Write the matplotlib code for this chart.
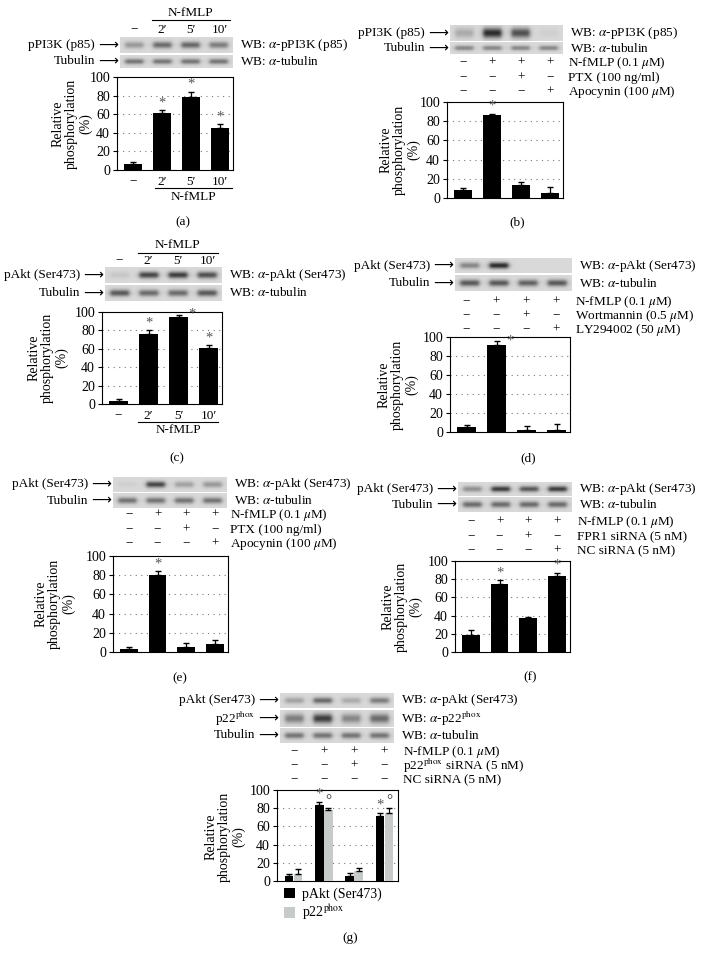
import numpy as np
import matplotlib
matplotlib.use("Agg")
import matplotlib.pyplot as plt
from matplotlib.transforms import blended_transform_factory

plt.rcParams['font.family'] = ['Liberation Serif', 'DejaVu Sans']
plt.rcParams['mathtext.fontset'] = 'stix'
plt.rcParams['font.size'] = 9.5

W, H = 703, 964

# ---- data ----
time_lanes = ["−", "2′", "5′", "10′"]
a_vals = [6, 61, 79, 45]
a_err = [3, 3, 5, 4]
b_vals = [8, 86, 14, 5]
b_err = [2, 2, 3, 6]
c_vals = [3, 76, 95, 61]
c_err = [2, 4, 1.5, 3]
d_vals = [5, 92, 2, 2]
d_err = [2, 4, 4, 6]
e_vals = [3, 80, 5, 8]
e_err = [2, 4, 4, 5]
f_vals = [19, 75, 37, 84]
f_err = [5, 4, 2, 3]
g_akt = [5, 84, 5, 71]
g_akt_err = [3, 3, 4, 4]
g_p22 = [8, 78, 11, 75]
g_p22_err = [5, 2, 3, 5]

a_stars = [1, 2, 3]
b_stars = [1]
e_stars = [1]
f_stars = [1, 3]
g_stars = [1, 3]

signs_std = [["−", "+", "+", "+"], ["−", "−", "+", "−"], ["−", "−", "−", "+"]]
signs_g = [["−", "+", "+", "+"], ["−", "−", "+", "−"], ["−", "−", "−", "−"]]
treat_b = [r"N-fMLP (0.1 $\mu$M)", "PTX (100 ng/ml)", r"Apocynin (100 $\mu$M)"]
treat_d = [r"N-fMLP (0.1 $\mu$M)", r"Wortmannin (0.5 $\mu$M)", r"LY294002 (50 $\mu$M)"]
treat_f = [r"N-fMLP (0.1 $\mu$M)", "FPR1 siRNA (5 nM)", "NC siRNA (5 nM)"]
treat_g = [r"N-fMLP (0.1 $\mu$M)", r"p22$^{\mathrm{phox}}$ siRNA (5 nM)", "NC siRNA (5 nM)"]

# band intensities for the blot strips (0 = none, 1 = black)
a_p85 = [0.35, 0.6, 0.62, 0.5]
a_tub = [0.55, 0.55, 0.55, 0.55]
b_p85 = [0.25, 0.95, 0.75, 0.05]
b_tub = [0.45, 0.45, 0.45, 0.45]
c_akt = [0.1, 0.8, 0.85, 0.75]
c_tub = [0.7, 0.6, 0.6, 0.7]
d_akt = [0.45, 0.95, 0.0, 0.0]
d_tub = [0.7, 0.7, 0.65, 0.7]
e_akt = [0.05, 0.8, 0.3, 0.35]
e_tub = [0.55, 0.55, 0.55, 0.55]
f_akt = [0.4, 0.85, 0.7, 0.85]
f_tub = [0.6, 0.6, 0.6, 0.6]
g_akt_band = [0.3, 0.6, 0.25, 0.5]
g_p22_band = [0.5, 0.85, 0.45, 0.6]
g_tub = [0.55, 0.55, 0.55, 0.55]

fig = plt.figure(figsize=(W / 100, H / 100), dpi=100)


def box(x0, y0, x1, y1):
    return [x0 / W, 1 - y1 / H, (x1 - x0) / W, (y1 - y0) / H]


def ftext(x, y, s, **kw):
    kw.setdefault('ha', 'center')
    kw.setdefault('va', 'center')
    return fig.text(x / W, 1 - y / H, s, **kw)


def blot(x0, y0, x1, y1, bands, thick=0.3, label=None, wb=None):
    ax = fig.add_axes(box(x0, y0, x1, y1))
    xs = np.linspace(-0.5, 3.5, 300)
    ys = np.linspace(-0.5, 0.5, 40)
    X, Y = np.meshgrid(xs, ys)
    img = np.full(X.shape, 0.85)
    for i, v in enumerate(bands):
        prof = 1 / (1 + ((X - i) / 0.33) ** 8) * np.exp(-(Y / thick) ** 2 * 2)
        img -= 0.72 * v * prof
    ax.imshow(img, cmap='gray', vmin=0, vmax=1, aspect='auto',
              extent=(-0.5, 3.5, 0.5, -0.5), interpolation='bilinear')
    ax.set_axis_off()
    yc = (y0 + y1) / 2
    if label:
        # long arrow pointing at the strip, label to its left
        ftext(x0 - 2, yc, "⟶", ha='right', family='DejaVu Sans', fontsize=10)
        ftext(x0 - 25, yc, label, ha='right')
    if wb:
        ftext(x1 + 7, yc, wb, ha='left')
    return ax


def style_axes(ax):
    ax.set_ylim(0, 100)
    ax.set_yticks([0, 20, 40, 60, 80, 100])
    ax.set_xticks([])
    ax.set_xlim(-0.55, 3.45)
    ax.tick_params(axis='y', length=3, width=0.8, pad=2, labelsize=10)
    for s in ax.spines.values():
        s.set_linewidth(0.8)
    for g in [20, 40, 60, 80]:
        ax.axhline(g, color='#777777', linestyle=(0, (1, 4)), linewidth=0.8, zorder=1)


def ylab(x, y):
    ftext(x, y, "Relative\nphosphorylation\n(%)", rotation=90, linespacing=1.05,
          multialignment='center', fontsize=10)


def star(ax, x, y):
    ax.text(x, y, "*", ha='center', va='bottom', color='#555555', fontsize=10.5)


def bars(x0, y0, x1, y1, vals, err, stars, ylab_x):
    ax = fig.add_axes(box(x0, y0, x1, y1))
    pos = np.arange(len(vals))
    ax.bar(pos, vals, width=0.62, color='black', zorder=3)
    ax.errorbar(pos, vals, yerr=[[0] * len(vals), err], fmt='none',
                ecolor='black', elinewidth=0.9, capsize=2.5, zorder=4)
    for i in stars:
        star(ax, pos[i], vals[i] + err[i] + 1)
    style_axes(ax)
    ylab(ylab_x, (y0 + y1) / 2)
    return ax


def sign_rows(ax, ys, signs, labels, label_x):
    tr = blended_transform_factory(ax.transData, fig.transFigure)
    for y, row, lab in zip(ys, signs, labels):
        for i, s in enumerate(row):
            ax.text(i, 1 - y / H, s, transform=tr, ha='center', va='center')
        ftext(label_x, y, lab, ha='left')


def time_axis(ax, y_lab, y_line, y_name, line_x0, line_x1):
    tr = blended_transform_factory(ax.transData, fig.transFigure)
    for i, s in enumerate(time_lanes):
        ax.text(i, 1 - y_lab / H, s, transform=tr, ha='center', va='center')
    fig.add_artist(plt.Line2D([line_x0 / W, line_x1 / W], [1 - y_line / H] * 2,
                              color='black', linewidth=0.8))
    ftext((line_x0 + line_x1) / 2, y_name, "N-fMLP")


# ---- (a) ----
ftext(190, 13, "N-fMLP")
fig.add_artist(plt.Line2D([152 / W, 230 / W], [1 - 20 / H] * 2, color='black', linewidth=0.8))
for x, s in zip([134, 162, 191, 220], time_lanes):
    ftext(x, 30, s)
blot(120, 37, 233, 53, a_p85, label="pPI3K (p85)", wb=r"WB: $\alpha$-pPI3K (p85)")
blot(120, 55, 233, 68, a_tub, label="Tubulin", wb=r"WB: $\alpha$-tubulin")
ax = bars(117, 77, 233, 170, a_vals, a_err, a_stars, 72)
time_axis(ax, 182, 188, 197, 155, 232)
ftext(183, 222, "(a)")

# ---- (b) ----
blot(450, 25, 563, 41, b_p85, thick=0.45, label="pPI3K (p85)", wb=r"WB: $\alpha$-pPI3K (p85)")
blot(450, 42, 563, 54, b_tub, label="Tubulin", wb=r"WB: $\alpha$-tubulin")
ax = bars(447, 102, 563, 198, b_vals, b_err, b_stars, 400)
sign_rows(ax, [63, 78, 92], signs_std, treat_b, 568)
ftext(517, 222, "(b)")

# ---- (c) ----
ftext(177, 245, "N-fMLP")
fig.add_artist(plt.Line2D([138 / W, 218 / W], [1 - 253 / H] * 2, color='black', linewidth=0.8))
for x, s in zip([119, 148, 178, 208], time_lanes):
    ftext(x, 261, s)
blot(105, 267, 222, 283, c_akt, label="pAkt (Ser473)", wb=r"WB: $\alpha$-pAkt (Ser473)")
blot(105, 285, 222, 301, c_tub, label="Tubulin", wb=r"WB: $\alpha$-tubulin")
ax = bars(102, 312, 222, 404, c_vals, c_err, [1, 3], 48)
star(ax, 2.45, c_vals[2] + c_err[2] - 6)
time_axis(ax, 416, 422, 430, 138, 218)
ftext(177, 458, "(c)")

# ---- (d) ----
blot(455, 258, 572, 273, d_akt, label="pAkt (Ser473)", wb=r"WB: $\alpha$-pAkt (Ser473)")
blot(455, 275, 572, 291, d_tub, label="Tubulin", wb=r"WB: $\alpha$-tubulin")
ax = bars(450, 337, 570, 432, d_vals, d_err, [], 398)
star(ax, 1.45, d_vals[1] + d_err[1] - 7)
sign_rows(ax, [302, 316, 330], signs_std, treat_d, 575)
ftext(528, 458, "(d)")

# ---- (e) ----
blot(113, 477, 227, 492, e_akt, label="pAkt (Ser473)", wb=r"WB: $\alpha$-pAkt (Ser473)")
blot(113, 493, 227, 508, e_tub, label="Tubulin", wb=r"WB: $\alpha$-tubulin")
ax = bars(113, 556, 228, 652, e_vals, e_err, e_stars, 55)
sign_rows(ax, [515, 530, 544], signs_std, treat_b, 230)
ftext(180, 678, "(e)")

# ---- (f) ----
blot(458, 482, 572, 496, f_akt, label="pAkt (Ser473)", wb=r"WB: $\alpha$-pAkt (Ser473)")
blot(458, 497, 572, 512, f_tub, label="Tubulin", wb=r"WB: $\alpha$-tubulin")
ax = bars(455, 561, 570, 652, f_vals, f_err, f_stars, 402)
sign_rows(ax, [522, 537, 551], signs_std, treat_f, 577)
ftext(530, 677, "(f)")

# ---- (g) ----
blot(280, 693, 394, 708, g_akt_band, label="pAkt (Ser473)", wb=r"WB: $\alpha$-pAkt (Ser473)")
blot(280, 710, 394, 727, g_p22_band, thick=0.4, label=r"p22$^{\mathrm{phox}}$",
     wb=r"WB: $\alpha$-p22$^{\mathrm{phox}}$")
blot(280, 728, 394, 743, g_tub, label="Tubulin", wb=r"WB: $\alpha$-tubulin")
ax = fig.add_axes(box(277, 790, 398, 881))
pos = np.arange(4)
off, bw = 0.15, 0.28
ax.bar(pos - off, g_akt, width=bw, color='black', zorder=3, label="pAkt (Ser473)")
ax.bar(pos + off, g_p22, width=bw, color='#c6cac9', zorder=3, label=r"p22$^{\mathrm{phox}}$")
ax.errorbar(pos - off, g_akt, yerr=[[0] * 4, g_akt_err], fmt='none', ecolor='black',
            elinewidth=0.9, capsize=2, zorder=4)
ax.errorbar(pos + off, g_p22, yerr=[[0] * 4, g_p22_err], fmt='none', ecolor='black',
            elinewidth=0.9, capsize=2, zorder=4)
for i in g_stars:
    star(ax, pos[i] - off, g_akt[i] + g_akt_err[i] + 1)
    ax.text(pos[i] + off, g_p22[i] + g_p22_err[i] + 1, "°", ha='center', va='bottom',
            color='#333333', fontsize=11)
style_axes(ax)
ylab(225, 837)
sign_rows(ax, [752, 766, 780], signs_g, treat_g, 403)
ax.legend(loc='upper left', bbox_to_anchor=(0.06, -0.07), frameon=False, fontsize=10,
          handlelength=0.8, handleheight=0.8, handletextpad=0.5, labelspacing=0.15,
          borderaxespad=0, borderpad=0)
ftext(350, 938, "(g)")

fig.savefig("out.png", dpi=100, facecolor='white')
